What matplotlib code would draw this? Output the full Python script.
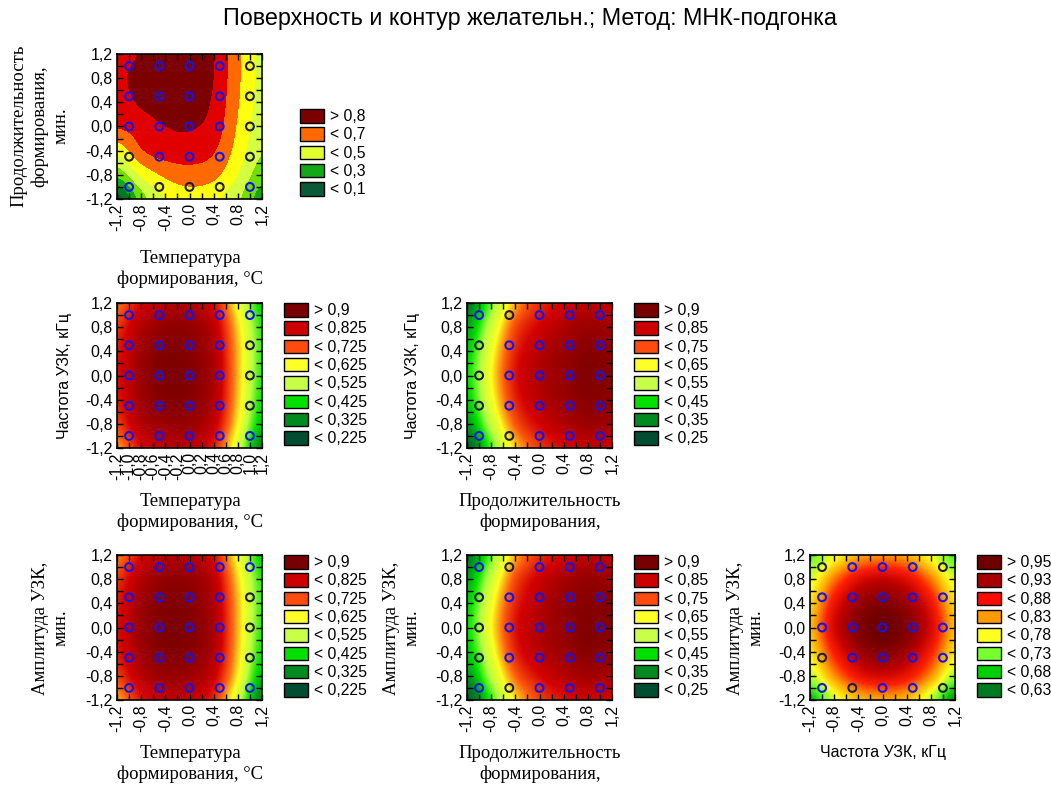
import numpy as np
import matplotlib.pyplot as plt
from matplotlib.colors import LinearSegmentedColormap, ListedColormap, BoundaryNorm, Normalize
from matplotlib.patches import Patch

W, H = 1051, 787
SANS = 'Liberation Sans'
SERIF = 'Liberation Serif'

# surface values at x, y = -1.2, -0.8, ..., 1.2
# rows go from y = 1.2 (top) to y = -1.2 (bottom)
grid_ticks = [-1.2, -0.8, -0.4, 0.0, 0.4, 0.8, 1.2]
design_levels = [-1.0, -0.5, 0.0, 0.5, 1.0]

d_temp_dur = [
    [0.76, 0.81, 0.86, 0.86, 0.80, 0.62, 0.47],
    [0.78, 0.835, 0.87, 0.87, 0.80, 0.62, 0.47],
    [0.76, 0.815, 0.86, 0.85, 0.785, 0.61, 0.46],
    [0.71, 0.75, 0.80, 0.81, 0.76, 0.59, 0.44],
    [0.53, 0.69, 0.75, 0.75, 0.71, 0.56, 0.41],
    [0.33, 0.52, 0.62, 0.66, 0.63, 0.50, 0.34],
    [0.05, 0.35, 0.50, 0.55, 0.52, 0.42, 0.25],
]
d_temp_freq = [
    [0.66, 0.77, 0.82, 0.82, 0.76, 0.56, 0.36],
    [0.72, 0.83, 0.88, 0.88, 0.81, 0.60, 0.40],
    [0.75, 0.86, 0.91, 0.90, 0.83, 0.62, 0.41],
    [0.76, 0.87, 0.92, 0.91, 0.84, 0.62, 0.40],
    [0.75, 0.86, 0.91, 0.90, 0.83, 0.61, 0.38],
    [0.71, 0.83, 0.87, 0.87, 0.80, 0.58, 0.34],
    [0.64, 0.76, 0.81, 0.81, 0.74, 0.52, 0.26],
]
d_dur_freq = [
    [0.27, 0.46, 0.65, 0.75, 0.80, 0.83, 0.82],
    [0.33, 0.53, 0.72, 0.80, 0.85, 0.88, 0.87],
    [0.38, 0.58, 0.76, 0.84, 0.88, 0.91, 0.90],
    [0.40, 0.60, 0.78, 0.85, 0.89, 0.92, 0.91],
    [0.38, 0.58, 0.76, 0.84, 0.88, 0.91, 0.90],
    [0.32, 0.52, 0.71, 0.80, 0.85, 0.88, 0.87],
    [0.22, 0.44, 0.63, 0.74, 0.79, 0.82, 0.81],
]
d_temp_amp = [
    [0.65, 0.77, 0.82, 0.82, 0.76, 0.56, 0.36],
    [0.72, 0.83, 0.88, 0.88, 0.81, 0.60, 0.40],
    [0.75, 0.86, 0.91, 0.90, 0.83, 0.62, 0.41],
    [0.76, 0.87, 0.92, 0.91, 0.84, 0.62, 0.40],
    [0.75, 0.86, 0.91, 0.90, 0.83, 0.61, 0.38],
    [0.71, 0.82, 0.87, 0.86, 0.79, 0.58, 0.33],
    [0.63, 0.75, 0.80, 0.80, 0.73, 0.51, 0.25],
]
d_dur_amp = [
    [0.27, 0.46, 0.65, 0.75, 0.80, 0.83, 0.82],
    [0.33, 0.53, 0.72, 0.81, 0.86, 0.89, 0.88],
    [0.38, 0.58, 0.76, 0.84, 0.89, 0.91, 0.91],
    [0.40, 0.60, 0.78, 0.85, 0.89, 0.92, 0.91],
    [0.37, 0.57, 0.76, 0.84, 0.88, 0.91, 0.90],
    [0.31, 0.51, 0.70, 0.79, 0.84, 0.87, 0.86],
    [0.21, 0.43, 0.62, 0.73, 0.78, 0.81, 0.80],
]
d_freq_amp = [
    [0.70, 0.75, 0.80, 0.81, 0.80, 0.75, 0.69],
    [0.74, 0.82, 0.88, 0.90, 0.88, 0.82, 0.74],
    [0.775, 0.87, 0.93, 0.95, 0.93, 0.87, 0.775],
    [0.79, 0.89, 0.95, 0.97, 0.95, 0.89, 0.79],
    [0.77, 0.86, 0.925, 0.95, 0.925, 0.86, 0.77],
    [0.73, 0.81, 0.87, 0.89, 0.87, 0.81, 0.72],
    [0.65, 0.74, 0.79, 0.80, 0.79, 0.73, 0.63],
]

# design points drawn dark (1) instead of blue (0); rows y = 1 ... -1
dark_temp_dur = [[0, 0, 0, 0, 1], [0, 0, 0, 0, 1], [0, 0, 0, 0, 1], [1, 0, 0, 0, 1], [0, 1, 1, 1, 0]]
dark_temp_freq = [[0, 0, 0, 0, 0], [0, 0, 0, 0, 1], [0, 0, 0, 0, 1], [0, 0, 0, 0, 1], [0, 0, 0, 0, 0]]
dark_dur_freq = [[0, 1, 0, 0, 0], [1, 0, 0, 0, 0], [1, 0, 0, 0, 0], [1, 0, 0, 0, 0], [0, 1, 0, 0, 0]]
dark_temp_amp = dark_temp_freq
dark_dur_amp = dark_dur_freq
dark_freq_amp = [[1, 0, 0, 0, 1], [0, 0, 0, 0, 0], [0, 0, 0, 0, 0], [1, 0, 0, 0, 0], [0, 1, 0, 0, 1]]

# legends
leg1_labels = ['> 0,8', '< 0,7', '< 0,5', '< 0,3', '< 0,1']
leg1_colors = ['#7d0000', '#ff6a00', '#e2ff30', '#12a818', '#0a5a3a']
leg2_labels = ['> 0,9', '< 0,825', '< 0,725', '< 0,625', '< 0,525', '< 0,425', '< 0,325', '< 0,225']
leg3_labels = ['> 0,9', '< 0,85', '< 0,75', '< 0,65', '< 0,55', '< 0,45', '< 0,35', '< 0,25']
leg23_colors = ['#780000', '#cc0000', '#ff4a10', '#ffff28', '#c8ff48', '#00e000', '#008a20', '#004d32']
leg6_labels = ['> 0,95', '< 0,93', '< 0,88', '< 0,83', '< 0,78', '< 0,73', '< 0,68', '< 0,63']
leg6_colors = ['#6e0000', '#a80000', '#ff0a00', '#ff9a00', '#ffff20', '#78ff30', '#00d000', '#007a20']

# panel 1 uses discrete bands
bands1 = [0.0, 0.1, 0.2, 0.3, 0.4, 0.5, 0.6, 0.7, 0.8, 1.0]
band1_colors = ['#0a5a3a', '#007a1a', '#12a818', '#70e000', '#d4ff40', '#ffff10', '#ff6a00', '#e00000', '#7d0000']
cmap1 = ListedColormap(band1_colors)
norm1 = BoundaryNorm(bands1, cmap1.N)


def smooth_cmap(vals, cols):
    lo, hi = vals[0], vals[-1]
    pos = [(v - lo) / (hi - lo) for v in vals]
    return LinearSegmentedColormap.from_list('d', list(zip(pos, cols))), Normalize(lo, hi)


cmap2, norm2 = smooth_cmap([0.15, 0.275, 0.375, 0.475, 0.575, 0.675, 0.775, 0.86, 0.96],
                           ['#004d32', '#008a20', '#00e000', '#b8ff40', '#ffff20', '#ff6010', '#d40000', '#a00000', '#6a0000'])
cmap3, norm3 = smooth_cmap([0.175, 0.3, 0.4, 0.5, 0.6, 0.7, 0.8, 0.875, 0.96],
                           ['#004d32', '#008a20', '#00e000', '#b8ff40', '#ffff20', '#ff6010', '#d40000', '#a00000', '#6a0000'])
cmap6, norm6 = smooth_cmap([0.6, 0.655, 0.705, 0.755, 0.805, 0.855, 0.905, 0.94, 0.975],
                           ['#006a20', '#00c000', '#70ff30', '#ffff20', '#ffa000', '#ff2000', '#c00000', '#900000', '#680000'])

fig = plt.figure(figsize=(W / 100, H / 100), dpi=100)


def fx(x):
    return x / W


def fy(y):
    return 1 - y / H


def fmt(v):
    return ('%.1f' % v).replace('.', ',').replace('-0,0', '0,0')


def panel(x0, y0, data, cmap, norm, dark, labels, colors, fine_x=False, leg_dx=22, leg_dy=0):
    ax = fig.add_axes([fx(x0), fy(y0 + 145), 145 / W, 145 / H])
    ax.imshow(np.array(data), extent=[-1.4, 1.4, -1.4, 1.4], origin='upper', cmap=cmap, norm=norm,
              interpolation='catrom', interpolation_stage='data', aspect='auto')
    X, Y = np.meshgrid(design_levels, design_levels[::-1])
    ec = np.where(np.array(dark) == 1, '#1c1c3c', '#1515e6')
    ax.scatter(X.ravel(), Y.ravel(), s=32, facecolors='none', edgecolors=ec.ravel(), linewidths=1.5, zorder=3)
    ax.set_xlim(-1.2, 1.2)
    ax.set_ylim(-1.2, 1.2)
    major = np.array(grid_ticks)
    minor = np.round(np.arange(-1.2, 1.21, 0.2), 1)
    xt = minor if fine_x else major
    ax.set_xticks(xt)
    ax.set_xticklabels([fmt(v) for v in xt], rotation=90, fontsize=11.5, family=SANS)
    ax.set_yticks(major)
    ax.set_yticklabels([fmt(v) for v in major], fontsize=11.5, family=SANS)
    ax.set_xticks(minor, minor=True)
    ax.set_yticks(minor, minor=True)
    ax.tick_params(which='both', direction='in', top=True, right=True, length=4, width=1, pad=3)
    for s in ax.spines.values():
        s.set_linewidth(1.2)
    handles = [Patch(facecolor=c, edgecolor='black', linewidth=1) for c in colors]
    ax.legend(handles=handles, labels=labels, loc='upper left',
              bbox_to_anchor=(1 + leg_dx / 145, 1 - leg_dy / 145), frameon=False,
              prop={'family': SANS, 'size': 11.3}, handlelength=1.5, handleheight=0.95,
              handletextpad=0.4, labelspacing=0.2, borderaxespad=0, borderpad=0)
    return ax


panel(117, 54, d_temp_dur, cmap1, norm1, dark_temp_dur, leg1_labels, leg1_colors, leg_dx=38, leg_dy=55)
panel(117, 303, d_temp_freq, cmap2, norm2, dark_temp_freq, leg2_labels, leg23_colors, fine_x=True)
panel(467, 303, d_dur_freq, cmap3, norm3, dark_dur_freq, leg3_labels, leg23_colors)
panel(117, 555, d_temp_amp, cmap2, norm2, dark_temp_amp, leg2_labels, leg23_colors)
panel(467, 555, d_dur_amp, cmap3, norm3, dark_dur_amp, leg3_labels, leg23_colors)
panel(810, 555, d_freq_amp, cmap6, norm6, dark_freq_amp, leg6_labels, leg6_colors)

fig.text(fx(530), fy(18), 'Поверхность и контур желательн.; Метод: МНК-подгонка',
         ha='center', va='center', fontsize=16.8, family=SANS)

serif = dict(family=SERIF, fontsize=13.5, ha='center', va='center', linespacing=1.25)
sans = dict(family=SANS, fontsize=11.5, ha='center', va='center')

# panel 1 labels
fig.text(fx(40), fy(126), 'Продолжительность\nформирования,\nмин.', rotation=90, **serif)
fig.text(fx(190), fy(269), 'Температура\nформирования, °C', **serif)
# panel 2
fig.text(fx(64), fy(376), 'Частота УЗК, кГц', rotation=90, **sans)
fig.text(fx(190), fy(512), 'Температура\nформирования, °C', **serif)
# panel 3
fig.text(fx(413), fy(376), 'Частота УЗК, кГц', rotation=90, **sans)
fig.text(fx(540), fy(512), 'Продолжительность\nформирования,', **serif)
# panel 4
fig.text(fx(51), fy(628), 'Амплитуда УЗК,\nмин.', rotation=90, **serif)
fig.text(fx(190), fy(764), 'Температура\nформирования, °C', **serif)
# panel 5
fig.text(fx(402), fy(628), 'Амплитуда УЗК,\nмин.', rotation=90, **serif)
fig.text(fx(540), fy(764), 'Продолжительность\nформирования,', **serif)
# panel 6
fig.text(fx(746), fy(628), 'Амплитуда УЗК,\nмин.', rotation=90, **serif)
fig.text(fx(883), fy(753), 'Частота УЗК, кГц', **sans)

fig.savefig('out.png', dpi=100)
